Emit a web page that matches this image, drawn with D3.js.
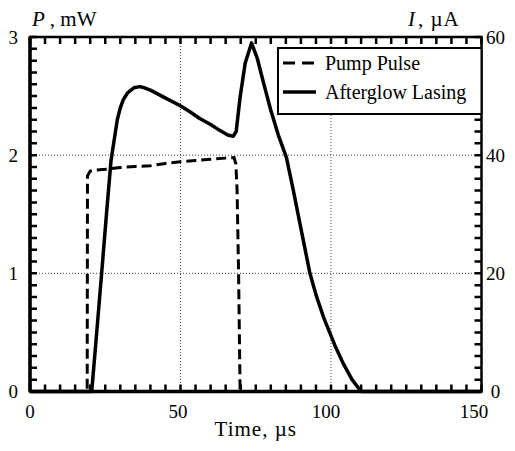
<!DOCTYPE html>
<html>
<head>
<meta charset="utf-8">
<script src="https://cdn.jsdelivr.net/npm/d3@7"></script>
<style>
  body { margin: 0; background: #fff; }
  text { font-family: "Liberation Serif", "Times New Roman", serif; fill: #000; }
</style>
</head>
<body>
<div id="chart"></div>
<script>
// size of the picture
const width = 515;
const height = 451;
const margin = {top: 37, right: 33.5, bottom: 59.5, left: 30};

const chart_width = width - margin.left - margin.right;
const chart_height = height - margin.top - margin.bottom;

// pump pulse, right axis (uA)
const pumpTime = [0, 10, 19.0, 19.1, 20, 22, 25, 30, 35, 40, 45, 50, 55, 60, 65, 67.8, 68.4, 68.8, 69.3, 69.8, 80, 100, 120, 150];
const pumpCurrent = [0, 0, 0, 36.5, 37.3, 37.5, 37.6, 37.9, 38.1, 38.2, 38.6, 38.9, 39.1, 39.3, 39.5, 39.6, 38.5, 34, 20, 0, 0, 0, 0, 0];

// afterglow lasing, left axis (mW)
const laseTime = [0, 10, 20.5, 22, 23.8, 25.4, 26.9, 27.8, 29, 30, 31, 32.5, 34.5, 36.5, 38, 40, 43, 46, 49.8, 53, 56.4, 60, 63, 65.7, 67.5, 68.5, 69.8, 71.5, 73.6, 75.5, 77.5, 80, 82.5, 85.2, 87.5, 90, 93, 95, 97.5, 101.3, 104, 107, 110, 130, 150];
const lasePower = [0, 0, 0, 0.45, 1.0, 1.5, 1.95, 2.1, 2.3, 2.4, 2.47, 2.53, 2.57, 2.58, 2.57, 2.55, 2.51, 2.47, 2.42, 2.37, 2.31, 2.26, 2.21, 2.17, 2.16, 2.2, 2.49, 2.78, 2.95, 2.82, 2.62, 2.38, 2.17, 1.98, 1.7, 1.38, 1.0, 0.82, 0.63, 0.39, 0.24, 0.1, 0, 0, 0];

const xLabels = [0, 50, 100, 150];
const leftLabels = [0, 1, 2, 3];
const rightLabels = [0, 20, 40, 60];
const legendNames = ["Pump Pulse", "Afterglow Lasing"];

var x_scale = d3.scaleLinear().domain([0, 150]).range([0, chart_width]);
var yl_scale = d3.scaleLinear().domain([0, 3]).range([chart_height, 0]);
var yr_scale = d3.scaleLinear().domain([0, 60]).range([chart_height, 0]);

var svg = d3.select("#chart")
    .append("svg")
    .attr("width", width)
    .attr("height", height)
    .append("g")
    .attr("transform", `translate(${margin.left}, ${margin.top})`);

// dotted grid
svg.selectAll(".vgrid")
    .data([50, 100])
    .enter().append("line")
    .attr("x1", d => x_scale(d)).attr("x2", d => x_scale(d))
    .attr("y1", 0).attr("y2", chart_height)
    .attr("stroke", "#444").attr("stroke-width", 1).attr("stroke-dasharray", "1,2");
svg.selectAll(".hgrid")
    .data([1, 2])
    .enter().append("line")
    .attr("x1", 0).attr("x2", chart_width)
    .attr("y1", d => yl_scale(d)).attr("y2", d => yl_scale(d))
    .attr("stroke", "#444").attr("stroke-width", 1).attr("stroke-dasharray", "1,2");

// minor ticks pointing in, drawn as one path
const tk = 7;
var xt = d3.range(0, 151, 5);
var yt = d3.range(0, 31).map(d => d / 10);
var rt = d3.range(0, 61, 2);
var tp = d3.path();
xt.forEach(d => {
  tp.moveTo(x_scale(d), chart_height); tp.lineTo(x_scale(d), chart_height - tk);
  tp.moveTo(x_scale(d), 0); tp.lineTo(x_scale(d), tk);
});
yt.forEach(d => { tp.moveTo(0, yl_scale(d)); tp.lineTo(tk, yl_scale(d)); });
rt.forEach(d => { tp.moveTo(chart_width, yr_scale(d)); tp.lineTo(chart_width - tk, yr_scale(d)); });
svg.append("path")
    .attr("d", tp.toString())
    .attr("fill", "none")
    .attr("stroke", "#000")
    .attr("stroke-width", 2.5);

// tick labels
svg.selectAll(".xlab")
    .data(xLabels)
    .enter().append("text")
    .attr("x", d => x_scale(d) - d * 0.05)
    .attr("y", chart_height + 26)
    .attr("text-anchor", "middle")
    .attr("font-size", 19)
    .text(d => d);
svg.selectAll(".llab")
    .data(leftLabels)
    .enter().append("text")
    .attr("x", -12)
    .attr("y", d => yl_scale(d))
    .attr("dy", "0.35em")
    .attr("text-anchor", "end")
    .attr("font-size", 19)
    .text(d => d);
svg.selectAll(".rlab")
    .data(rightLabels)
    .enter().append("text")
    .attr("x", chart_width + 14)
    .attr("y", d => yr_scale(d))
    .attr("dy", "0.35em")
    .attr("text-anchor", "middle")
    .attr("font-size", 19)
    .text(d => d);

// axis titles
var pt = svg.append("text").attr("x", 2).attr("y", -11).attr("font-size", 21);
pt.append("tspan").attr("font-style", "italic").text("P");
pt.append("tspan").attr("dx", 5).text(", mW");
var it = svg.append("text").attr("x", 378).attr("y", -11).attr("font-size", 21);
it.append("tspan").attr("font-style", "italic").text("I");
it.append("tspan").attr("dx", 3).text(", \u00b5A").attr("letter-spacing", 1);
svg.append("text")
    .attr("x", chart_width / 2)
    .attr("y", chart_height + 44)
    .attr("text-anchor", "middle")
    .attr("font-size", 21)
    .attr("letter-spacing", 1)
    .text("Time, \u00b5s");

// curves
var pumpLine = d3.line()
    .x((d, i) => x_scale(pumpTime[i]))
    .y(d => yr_scale(d));
var laseLine = d3.line()
    .x((d, i) => x_scale(laseTime[i]))
    .y(d => yl_scale(d));

svg.append("path")
    .datum(lasePower)
    .attr("d", laseLine)
    .attr("fill", "none").attr("stroke", "#000")
    .attr("stroke-width", 3.5).attr("stroke-linejoin", "round");
svg.append("path")
    .datum(pumpCurrent)
    .attr("d", pumpLine)
    .attr("fill", "none").attr("stroke", "#000")
    .attr("stroke-width", 3).attr("stroke-dasharray", "10,5");

// frame
svg.append("rect")
    .attr("x", 0).attr("y", 0)
    .attr("width", chart_width).attr("height", chart_height)
    .attr("fill", "none").attr("stroke", "#000").attr("stroke-width", 2.5);
svg.append("line").attr("x1", 0).attr("x2", 0).attr("y1", 0).attr("y2", chart_height)
    .attr("stroke", "#000").attr("stroke-width", 3.5);
svg.append("line").attr("x1", 0).attr("x2", chart_width).attr("y1", chart_height).attr("y2", chart_height)
    .attr("stroke", "#000").attr("stroke-width", 3.5);

// legend
var lg = svg.append("g").attr("transform", "translate(248, 11)");
lg.append("rect")
    .attr("x", 0).attr("y", 0).attr("width", chart_width - 248).attr("height", 66)
    .attr("fill", "#fff").attr("stroke", "#000").attr("stroke-width", 2);
lg.selectAll(".lgline")
    .data(legendNames)
    .enter().append("line")
    .attr("x1", 5).attr("x2", 38)
    .attr("y1", (d, i) => 15 + i * 29).attr("y2", (d, i) => 15 + i * 29)
    .attr("stroke", "#000")
    .attr("stroke-width", (d, i) => i == 0 ? 3 : 3.5)
    .attr("stroke-dasharray", (d, i) => i == 0 ? "12,7" : null);
lg.selectAll(".lgtext")
    .data(legendNames)
    .enter().append("text")
    .attr("x", 47)
    .attr("y", (d, i) => 15 + i * 29)
    .attr("dy", "0.35em")
    .attr("font-size", 20)
    .text(d => d);
</script>
</body>
</html>
